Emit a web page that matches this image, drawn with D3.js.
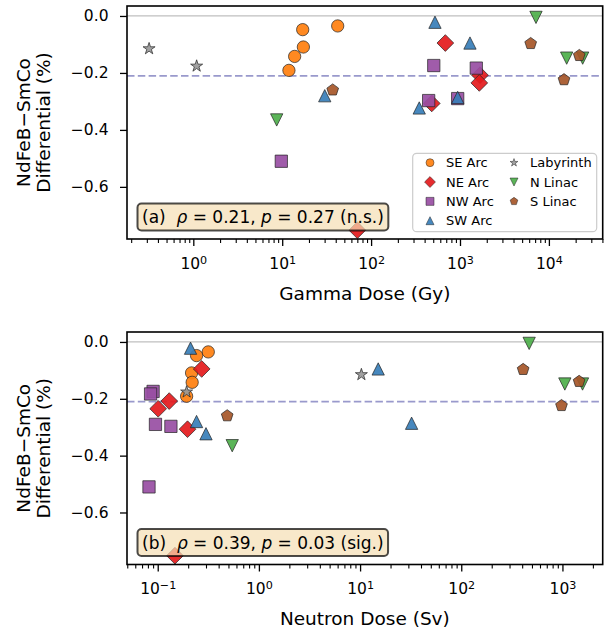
<!DOCTYPE html>
<html>
<head>
<meta charset="utf-8">
<script src="https://cdn.jsdelivr.net/npm/d3@7"></script>
<style>
  body { margin: 0; background: #fff; }
  text { font-family: "DejaVu Sans", sans-serif; }
</style>
</head>
<body>
<script>
// locations, in legend order
var locations = ["SE Arc", "NE Arc", "NW Arc", "SW Arc", "Labyrinth", "N Linac", "S Linac"];
var colors = ["#ff7f0e", "#e41a1c", "#984ea3", "#377eb8", "#999999", "#4daf4a", "#a65628"];
var shapes = ["circle", "diamond", "square", "triangleUp", "star", "triangleDown", "pentagon"];

// gamma dose (Gy), neutron dose (Sv) and NdFeB-SmCo differential (%) per location
var seGamma = [42.1, 17.0, 17.3, 13.8, 11.9];
var seNeutron = [0.316, 0.242, 0.216, 0.219, 0.193];
var seDiff = [-0.035, -0.048, -0.109, -0.142, -0.191];

var neGamma = [684, 1679, 1648, 481, 70.0];
var neNeutron = [0.272, 0.130, 0.101, 0.197, 0.148];
var neDiff = [-0.095, -0.208, -0.235, -0.307, -0.752];

var nwGamma = [507, 1525, 942, 444, 9.77];
var nwNeutron = [0.090, 0.085, 0.095, 0.135, 0.082];
var nwDiff = [-0.174, -0.183, -0.290, -0.297, -0.510];

var swGamma = [523, 1295, 30.1, 942, 348];
var swNeutron = [0.211, 15.1, 0.242, 32.3, 0.300];
var swDiff = [-0.022, -0.095, -0.280, -0.286, -0.323];

var labGamma = [0.318, 1.09];
var labNeutron = [10.3, 0.193];
var labDiff = [-0.115, -0.176];

var nlGamma = [7160, 15850, 23990, 8.67];
var nlNeutron = [469, 1056, 1580, 0.545];
var nlDiff = [-0.005, -0.148, -0.148, -0.365];

var slGamma = [6240, 21980, 14790, 37.0];
var slNeutron = [409, 1462, 979, 0.486];
var slDiff = [-0.097, -0.139, -0.224, -0.260];

var meanDiff = -0.21;

// axis ticks
var yTicks = [0, -0.2, -0.4, -0.6];
var gammaTicks = [1, 10, 100, 1000, 10000];
var neutronTicks = [0.1, 1, 10, 100, 1000];

// correlation annotations
var panelTags = ["(a)", "(b)"];
var rhoVals = ["0.21", "0.39"];
var pVals = ["0.27", "0.03"];
var sigVals = ["(n.s.)", "(sig.)"];

var gammaByLoc = [seGamma, neGamma, nwGamma, swGamma, labGamma, nlGamma, slGamma];
var neutronByLoc = [seNeutron, neNeutron, nwNeutron, swNeutron, labNeutron, nlNeutron, slNeutron];
var diffByLoc = [seDiff, neDiff, nwDiff, swDiff, labDiff, nlDiff, slDiff];

var rows = [];
locations.forEach(function (loc, i) {
  diffByLoc[i].forEach(function (v, j) {
    rows.push({loc: loc, k: i, gamma: gammaByLoc[i][j], neutron: neutronByLoc[i][j], diff: v});
  });
});

var W = 606, H = 635;
var left = 127, right = 602.7;
var yDomain = [-0.783, 0.035];
var tickFont = 15.5, labelFont = 18.5;

var svg = d3.select("body").append("svg").attr("width", W).attr("height", H);

// matplotlib-like marker shapes
function markerPath(shape, s) {
  var r = s / 2, p = d3.path(), k, a, q;
  if (shape === "circle") {
    p.arc(0, 0, r, 0, 2 * Math.PI);
  } else if (shape === "square") {
    p.rect(-r, -r, s, s);
  } else if (shape === "diamond") {
    q = r * 1.36;
    p.moveTo(0, -q); p.lineTo(q, 0); p.lineTo(0, q); p.lineTo(-q, 0); p.closePath();
  } else if (shape === "triangleUp") {
    p.moveTo(0, -r); p.lineTo(r, r); p.lineTo(-r, r); p.closePath();
  } else if (shape === "triangleDown") {
    p.moveTo(0, r); p.lineTo(r, -r); p.lineTo(-r, -r); p.closePath();
  } else if (shape === "pentagon") {
    for (k = 0; k < 5; k++) {
      a = -Math.PI / 2 + k * 2 * Math.PI / 5;
      if (k === 0) p.moveTo(r * Math.cos(a), r * Math.sin(a)); else p.lineTo(r * Math.cos(a), r * Math.sin(a));
    }
    p.closePath();
  } else if (shape === "star") {
    var R = r * 1.03;
    for (k = 0; k < 10; k++) {
      a = -Math.PI / 2 + k * Math.PI / 5;
      q = k % 2 ? R * 0.382 : R;
      if (k === 0) p.moveTo(q * Math.cos(a), q * Math.sin(a)); else p.lineTo(q * Math.cos(a), q * Math.sin(a));
    }
    p.closePath();
  }
  return p.toString();
}

function supNum(d) {
  var e = Math.round(Math.log10(d));
  return e < 0 ? "\u2212" + Math.abs(e) : String(e);
}

function drawPanel(idx, top, bottom, x, key, majors, xLabel, labelBase, withLegend) {
  var y = d3.scaleLinear().domain(yDomain).range([bottom, top]);
  var g = svg.append("g");
  var clipId = "clip" + idx;

  g.append("clipPath").attr("id", clipId).append("rect")
    .attr("x", left).attr("y", top).attr("width", right - left).attr("height", bottom - top);

  var plot = g.append("g").attr("clip-path", "url(#" + clipId + ")");

  // zero line and mean line
  plot.append("line")
    .attr("x1", left).attr("x2", right).attr("y1", y(0)).attr("y2", y(0))
    .attr("stroke", "#bfbfbf").attr("stroke-width", 1.3);
  plot.append("line")
    .attr("x1", left).attr("x2", right).attr("y1", y(meanDiff)).attr("y2", y(meanDiff))
    .attr("stroke", "#9999cc").attr("stroke-width", 1.8).attr("stroke-dasharray", "7.5,3.3");

  locations.forEach(function (loc, i) {
    plot.append("g").selectAll("path")
      .data(rows.filter(function (d) { return d.k === i; }))
      .enter().append("path")
        .attr("d", markerPath(shapes[i], 12.3))
        .attr("transform", function (d) { return "translate(" + x(d[key]) + "," + y(d.diff) + ")"; })
        .attr("fill", colors[i]).attr("fill-opacity", 0.92)
        .attr("stroke", "#222").attr("stroke-width", 0.7);
  });

  // x axis minor ticks
  var minors = [];
  var dom = x.domain();
  for (var e = Math.floor(Math.log10(dom[0])); e <= Math.ceil(Math.log10(dom[1])); e++) {
    for (var m = 2; m < 10; m++) {
      var v = m * Math.pow(10, e);
      if (v >= dom[0] && v <= dom[1]) minors.push(v);
    }
  }
  g.append("g").attr("transform", "translate(0," + bottom + ")")
    .call(d3.axisBottom(x).tickValues(minors).tickSize(4).tickFormat(function () { return ""; }))
    .call(function (s) { s.select(".domain").remove(); s.selectAll("line").attr("stroke-width", 1.1); });

  var xa = g.append("g").attr("transform", "translate(0," + bottom + ")")
    .call(d3.axisBottom(x).tickValues(majors).tickSize(7).tickPadding(11.5).tickFormat(function () { return "10"; }));
  xa.select(".domain").remove();
  xa.selectAll("line").attr("stroke-width", 1.3);
  xa.selectAll("text").attr("font-size", tickFont).attr("fill", "#000").attr("font-family", "DejaVu Sans")
    .each(function (d) {
      d3.select(this).append("tspan").attr("dy", "-0.42em").attr("font-size", "0.72em").text(supNum(d));
    });

  var ya = g.append("g").attr("transform", "translate(" + left + ",0)")
    .call(d3.axisLeft(y).tickValues(yTicks).tickSize(7).tickPadding(11.5).tickFormat(d3.format(".1f")));
  ya.select(".domain").remove();
  ya.selectAll("line").attr("stroke-width", 1.3);
  ya.selectAll("text").attr("font-size", tickFont).attr("fill", "#000").attr("font-family", "DejaVu Sans");

  // frame
  g.append("rect").attr("x", left).attr("y", top).attr("width", right - left).attr("height", bottom - top)
    .attr("fill", "none").attr("stroke", "#000").attr("stroke-width", 1.6);

  // axis labels
  g.append("text").attr("x", (left + right) / 2).attr("y", labelBase)
    .attr("text-anchor", "middle").attr("font-size", labelFont).text(xLabel);
  var cy = (top + bottom) / 2;
  g.append("text").attr("transform", "translate(30," + cy + ") rotate(-90)")
    .attr("text-anchor", "middle").attr("font-size", labelFont).text("NdFeB\u2212SmCo");
  g.append("text").attr("transform", "translate(50," + cy + ") rotate(-90)")
    .attr("text-anchor", "middle").attr("font-size", labelFont).text("Differential (%)");

  // correlation box
  var ann = g.append("g");
  var t = ann.append("text").attr("x", left + 15).attr("y", bottom - 16)
    .attr("font-size", 17).style("white-space", "pre");
  t.append("tspan").text(panelTags[idx] + "  ");
  t.append("tspan").attr("font-style", "italic").text("\u03c1");
  t.append("tspan").text(" = " + rhoVals[idx] + ", ");
  t.append("tspan").attr("font-style", "italic").text("p");
  t.append("tspan").text(" = " + pVals[idx] + " " + sigVals[idx]);
  var bb = t.node().getBBox();
  ann.insert("rect", "text")
    .attr("x", bb.x - 4.5).attr("y", bb.y - 3.5).attr("width", bb.width + 9).attr("height", bb.height + 7)
    .attr("rx", 4).attr("fill", "#f5deb3").attr("fill-opacity", 0.7)
    .attr("stroke", "#000").attr("stroke-opacity", 0.7).attr("stroke-width", 2);

  if (withLegend) {
    var lw = 184, lh = 78.4;
    var lx = right - 6 - lw, ly = bottom - 7.3 - lh;
    var lg = g.append("g");
    lg.append("rect").attr("x", lx).attr("y", ly).attr("width", lw).attr("height", lh).attr("rx", 4)
      .attr("fill", "#fff").attr("fill-opacity", 0.8).attr("stroke", "#cccccc").attr("stroke-width", 1.2);
    locations.forEach(function (loc, i) {
      var col = i < 4 ? 0 : 1, row = i < 4 ? i : i - 4;
      var mx = lx + 17.3 + col * 84, my = ly + 9.4 + row * 19.33;
      lg.append("path").attr("d", markerPath(shapes[i], 8))
        .attr("transform", "translate(" + mx + "," + my + ")")
        .attr("fill", colors[i]).attr("fill-opacity", 0.92)
        .attr("stroke", "#222").attr("stroke-width", 0.5);
      lg.append("text").attr("x", mx + 16).attr("y", my + 4.7).attr("font-size", 13).text(loc);
    });
  }
}

var xGamma = d3.scaleLog().domain([0.1795, 40300]).range([left, right]);
var xNeutron = d3.scaleLog().domain([0.0497, 2500]).range([left, right]);

drawPanel(0, 6, 239, xGamma, "gamma", gammaTicks, "Gamma Dose (Gy)", 300, true);
drawPanel(1, 332, 564.5, xNeutron, "neutron", neutronTicks, "Neutron Dose (Sv)", 625, false);
</script>
</body>
</html>
